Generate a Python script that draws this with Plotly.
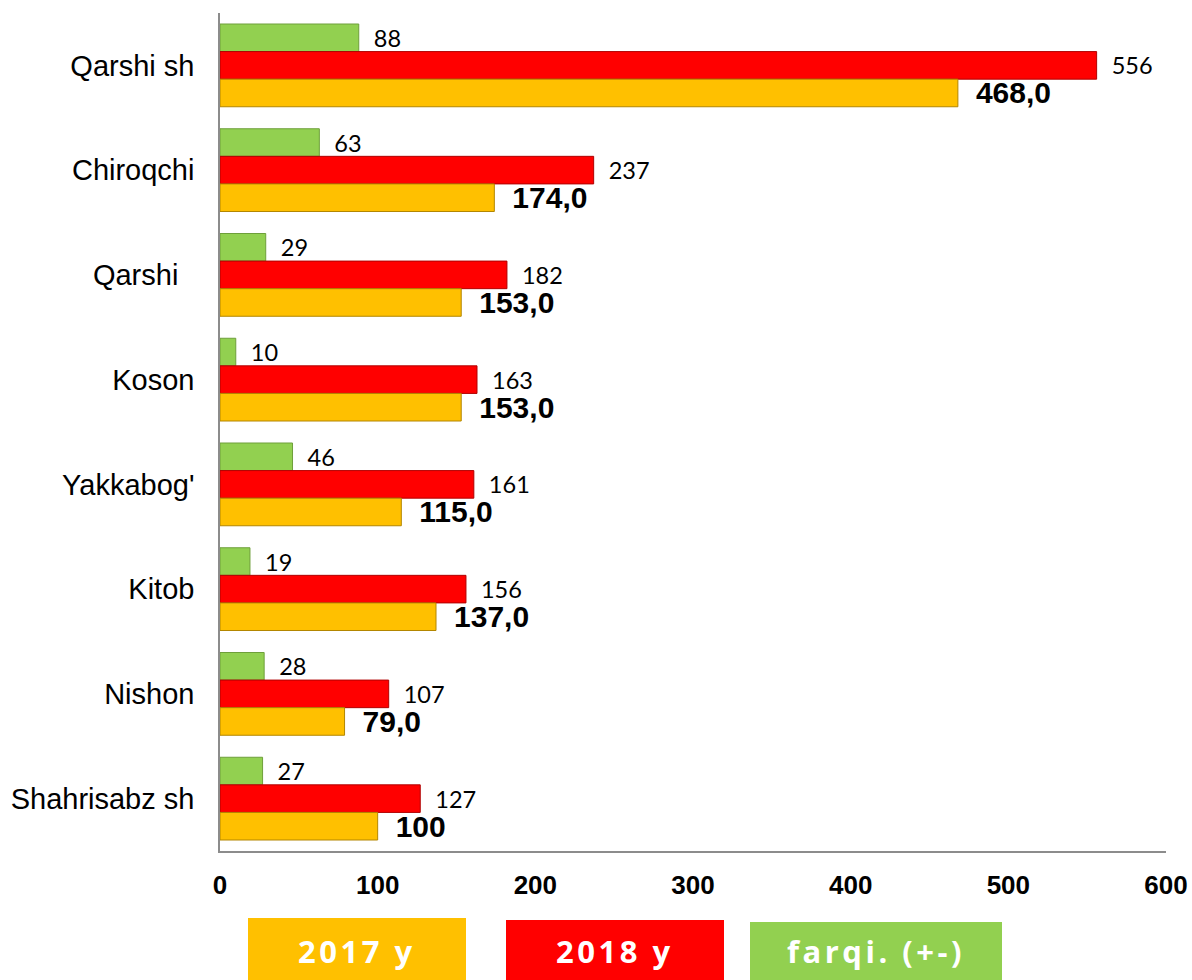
import plotly.graph_objects as go

categories = ["Qarshi sh", "Chiroqchi", "Qarshi", "Koson", "Yakkabog'", "Kitob", "Nishon", "Shahrisabz sh"]
category_labels = ["Qarshi sh", "Chiroqchi", "Qarshi\u00a0\u00a0", "Koson", "Yakkabog'", "Kitob", "Nishon", "Shahrisabz sh"]
values_2017 = [468, 174, 153, 153, 115, 137, 79, 100]
labels_2017 = ["468,0", "174,0", "153,0", "153,0", "115,0", "137,0", "79,0", "100"]
values_2018 = [556, 237, 182, 163, 161, 156, 107, 127]
values_diff = [88, 63, 29, 10, 46, 19, 28, 27]
x_ticks = [0, 100, 200, 300, 400, 500, 600]
legend_names = ["2017 y", "2018 y", "farqi. (+-)"]

PAD_BOLD = "\u2002"
PAD_NORM = "\u00a0\u00a0"

fig = go.Figure()
fig.add_trace(go.Bar(
    y=categories, x=values_diff, orientation="h", name=legend_names[2],
    marker=dict(color="#92D050", line=dict(color="#6E9F3A", width=1)),
    text=[PAD_NORM + str(v) for v in values_diff], textposition="outside",
    textfont=dict(family="Lato, Open Sans, sans-serif", size=23.5, color="#000000"),
    constraintext="none", cliponaxis=False,
))
fig.add_trace(go.Bar(
    y=categories, x=values_2018, orientation="h", name=legend_names[1],
    marker=dict(color="#FF0000", line=dict(color="#B00000", width=1)),
    text=[PAD_NORM + str(v) for v in values_2018], textposition="outside",
    textfont=dict(family="Lato, Open Sans, sans-serif", size=23.5, color="#000000"),
    constraintext="none", cliponaxis=False,
))
fig.add_trace(go.Bar(
    y=categories, x=values_2017, orientation="h", name=legend_names[0],
    marker=dict(color="#FFC000", line=dict(color="#B38600", width=1)),
    text=[PAD_BOLD + t for t in labels_2017], textposition="outside",
    textfont=dict(family="Liberation Sans, Arial, sans-serif", size=30, color="#000000", weight="bold"),
    constraintext="none", cliponaxis=False,
))

# custom legend boxes
W_PLOT = 1192 - 220 - 26
H_PLOT = 851 - 13
def px_x(p):
    return (p - 220) / W_PLOT
def px_y(p):
    return (851 - p) / H_PLOT

legend_boxes = [
    (248, 466, 918, "#FFC000", legend_names[0]),
    (506, 724, 920, "#FF0000", legend_names[1]),
    (750, 1002, 922, "#92D050", legend_names[2]),
]
shapes = []
annotations = []
for x0, x1, y0, col, name in legend_boxes:
    shapes.append(dict(type="rect", xref="paper", yref="paper",
                       x0=px_x(x0), x1=px_x(x1), y0=px_y(y0), y1=px_y(985),
                       fillcolor=col, line=dict(width=0), layer="above"))
    annotations.append(dict(xref="paper", yref="paper", x=px_x((x0 + x1) / 2), y=px_y(951),
                            text='<span style="letter-spacing:3.5px">' + name + '</span>',
                            showarrow=False, xanchor="center", yanchor="middle",
                            font=dict(family="Open Sans, sans-serif", size=31, color="#FFFFFF", weight="bold")))

fig.update_layout(
    width=1192, height=980,
    margin=dict(l=220, r=26, t=13, b=129),
    paper_bgcolor="#FFFFFF", plot_bgcolor="#FFFFFF",
    barmode="group", bargap=0.21, bargroupgap=0,
    showlegend=False,
    shapes=shapes, annotations=annotations,
    xaxis=dict(range=[0, 600], tickvals=x_ticks, showgrid=False, zeroline=False, automargin=False,
               showline=True, linecolor="#8C8C8C", linewidth=1.5,
               ticks="outside", ticklen=10, tickcolor="rgba(0,0,0,0)",
               tickfont=dict(family="Liberation Sans, Arial, sans-serif", size=26, color="#000000", weight="bold")),
    yaxis=dict(autorange="reversed", tickvals=categories, ticktext=category_labels,
               showgrid=False, zeroline=False, automargin=False,
               showline=True, linecolor="#8C8C8C", linewidth=1.5,
               ticks="outside", ticklen=18, tickcolor="rgba(0,0,0,0)",
               tickfont=dict(family="Liberation Sans, Arial, sans-serif", size=29, color="#000000")),
)

fig.write_html("out.html", config={"displayModeBar": False},
               post_script="document.body.style.margin='0';document.body.style.overflow='hidden';")
